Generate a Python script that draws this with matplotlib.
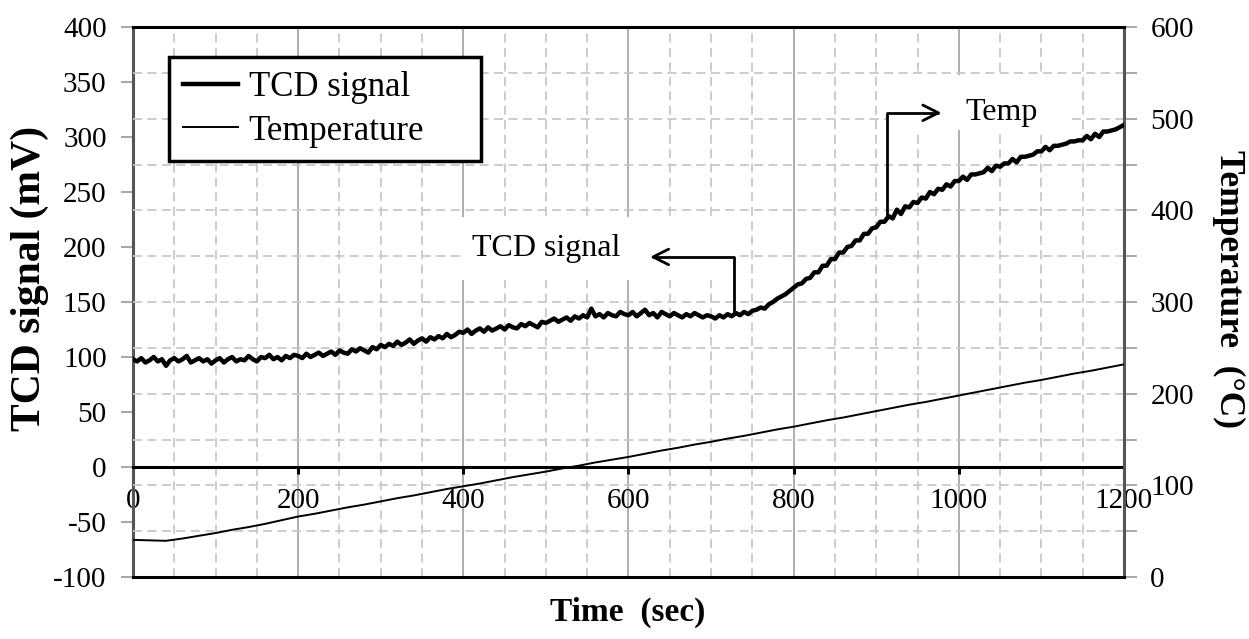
import numpy as np
import matplotlib
matplotlib.use('Agg')
import matplotlib.pyplot as plt
from matplotlib.patches import Rectangle
from matplotlib.ticker import MultipleLocator

plt.rcParams['font.family'] = ['Liberation Serif', 'DejaVu Serif']
plt.rcParams['axes.unicode_minus'] = False

# TCD signal (mV), one reading every 5 s
time_tcd = np.arange(0, 1201, 5)
tcd_signal = [
    98, 96, 99, 95, 97, 100, 96, 98, 92, 97, 99, 96, 98, 101, 95, 97, 99, 96, 98, 94,
    97, 99, 95, 98, 100, 96, 98, 97, 101, 98, 96, 100, 99, 102, 98, 100, 97, 101, 99, 102,
    101, 99, 103, 100, 102, 104, 101, 103, 105, 102, 106, 104, 103, 107, 105, 108, 106, 104, 109, 107,
    111, 109, 112, 110, 114, 111, 113, 116, 112, 115, 117, 114, 118, 116, 119, 117, 121, 118, 120, 123,
    122, 125, 121, 124, 126, 123, 127, 124, 126, 128, 125, 129, 127, 126, 130, 128, 131, 129, 127, 132,
    131, 133, 135, 132, 134, 136, 133, 137, 135, 138, 136, 144, 137, 139, 136, 140, 138, 137, 141, 139,
    138, 141, 137, 140, 143, 138, 140, 136, 141, 139, 137, 140, 138, 136, 139, 137, 140, 138, 136, 138,
    137, 135, 138, 136, 139, 137, 140, 138, 141, 139, 142, 143, 145, 144, 148, 150, 153, 155, 157, 160,
    163, 166, 167, 171, 172, 177, 177, 183, 183, 189, 189, 195, 195, 200, 201, 206, 206, 212, 212, 217,
    218, 223, 223, 228, 226, 234, 230, 237, 236, 241, 240, 245, 244, 250, 248, 253, 252, 257, 255, 260,
    260, 264, 261, 266, 266, 267, 268, 272, 269, 274, 273, 276, 276, 280, 277, 282, 282, 283, 284, 287,
    287, 291, 288, 292, 292, 293, 294, 296, 296, 297, 297, 301, 298, 303, 300, 305, 305, 306, 307, 309,
    311,
]

# temperature (deg C), one reading every 20 s
time_temp = np.arange(0, 1201, 20)
temperature = [
    40.5, 40, 39.5, 42, 45, 48, 51.5, 54.5, 58, 62,
    66, 69, 72.5, 76, 79, 82.5, 86, 89, 92.5, 96,
    99, 102, 105.5, 109, 112, 115, 118.5, 121.5, 125, 128,
    131, 134.5, 138, 141, 144.5, 147.5, 151, 154, 157.5, 161,
    164, 167.5, 171, 174, 177.5, 181, 184.5, 188, 191, 194.5,
    198, 201.5, 205, 208.5, 212, 215, 218.5, 222, 225, 228.5,
    232,
]

fig = plt.figure(figsize=(12.49, 6.39), dpi=100)
ax = fig.add_axes([0.1065, 0.097, 0.7934, 0.8607])
ax2 = ax.twinx()
ax.set_axisbelow(True)
ax2.set_axisbelow(True)

# both curves on the upper axes so the grid stays underneath
ax2.plot(time_tcd, tcd_signal, transform=ax.transData, color='black',
         lw=3.2, zorder=3, label='TCD signal')
ax2.plot(time_temp, temperature, color='black', lw=1.4, zorder=3,
         label='Temperature')

ax.set_xlim(0, 1200)
ax.set_ylim(-100, 400)
ax2.set_ylim(0, 600)

# x axis crosses at 0 mV
ax.spines['bottom'].set_position(('data', 0))
ax.spines['bottom'].set_linewidth(2.2)
ax.spines['left'].set_linewidth(2.2)
ax.spines['left'].set_color('#555555')
ax.spines['top'].set_visible(False)
ax.spines['right'].set_visible(False)
ax2.spines['left'].set_visible(False)
ax2.spines['right'].set_linewidth(2.2)
ax2.spines['right'].set_color('#555555')
ax2.spines['top'].set_linewidth(2.2)
ax2.spines['bottom'].set_linewidth(2.2)

ax.set_xticks(range(0, 1201, 200))
ax.xaxis.set_minor_locator(MultipleLocator(50))
ax.tick_params(axis='x', which='major', direction='out', length=5, width=2.2,
               color='black', labelsize=21, pad=10)
ax.tick_params(axis='x', which='minor', length=0)
ax.set_yticks(range(-100, 401, 50))
ax.tick_params(axis='y', direction='out', length=9, width=1.2,
               color='#999999', labelsize=21, pad=10)

ax2.set_yticks(range(0, 601, 100))
ax2.yaxis.set_minor_locator(MultipleLocator(50))
ax2.tick_params(axis='y', which='both', direction='out', length=9, width=1.2,
                color='#999999', labelsize=21, pad=10)

ax.grid(True, which='major', axis='x', color='#a8a8a8', lw=1.3, ls='-')
ax.grid(True, which='minor', axis='x', color='#c8c8c8', lw=1.3, ls=(0, (5, 3)))
ax2.grid(True, which='both', axis='y', color='#c8c8c8', lw=1.3, ls=(0, (5, 3)))

# annotations with white boxes hiding the grid
ax2.add_patch(Rectangle((396, 170), 335, 57, transform=ax.transData,
                        facecolor='white', edgecolor='none', zorder=1.5))
ax2.text(500, 199, 'TCD signal', transform=ax.transData, ha='center',
         va='center', fontsize=23, zorder=4)
ax2.annotate('', xy=(626, 191), xytext=(728, 141), xycoords=ax.transData,
             textcoords=ax.transData, zorder=4,
             arrowprops=dict(arrowstyle='->', color='black', lw=2,
                             connectionstyle='angle,angleA=90,angleB=0,rad=0',
                             shrinkA=0, shrinkB=0, mutation_scale=28))

ax2.add_patch(Rectangle((913, 306), 219, 50, transform=ax.transData,
                        facecolor='white', edgecolor='none', zorder=1.5))
ax2.text(1052, 322, 'Temp', transform=ax.transData, ha='center',
         va='center', fontsize=23, zorder=4)
ax2.annotate('', xy=(979, 322), xytext=(913, 227), xycoords=ax.transData,
             textcoords=ax.transData, zorder=4,
             arrowprops=dict(arrowstyle='->', color='black', lw=2,
                             connectionstyle='angle,angleA=90,angleB=0,rad=0',
                             shrinkA=0, shrinkB=0, mutation_scale=28))

leg = ax2.legend(loc='upper left', bbox_to_anchor=(0.036, 0.745, 0.315, 0.2),
                 mode='expand', fontsize=25, frameon=True, fancybox=False,
                 edgecolor='black', framealpha=1, borderpad=0.4,
                 handlelength=1.6, handletextpad=0.3, labelspacing=0.3,
                 borderaxespad=0)
leg.get_frame().set_linewidth(2.5)
leg.set_zorder(5)

fig.text(30 / 1249, 1 - 278 / 639, 'TCD signal (mV)', rotation=90, ha='center',
         va='center', fontsize=30, fontweight='bold')
fig.text(1229 / 1249, 1 - 289 / 639, 'Temperature  (°C)', rotation=270,
         ha='center', va='center', fontsize=25.5, fontweight='bold')
fig.text(628 / 1249, 1 - 612 / 639, 'Time  (sec)', ha='center', va='center',
         fontsize=24, fontweight='bold')

fig.savefig('out.png', dpi=100)
